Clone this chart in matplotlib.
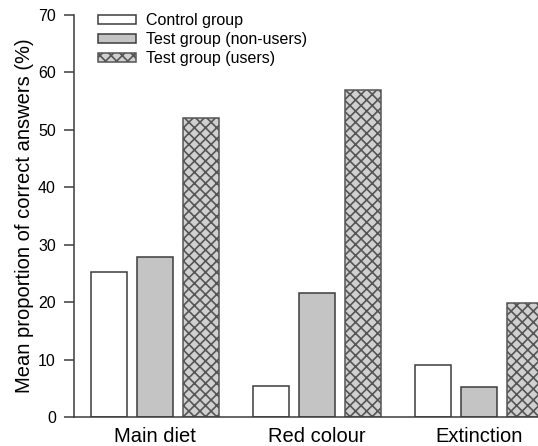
import numpy as np
import matplotlib
matplotlib.use("Agg")
import matplotlib.pyplot as plt

plt.rcParams['font.family'] = ['Liberation Sans', 'DejaVu Sans']
plt.rcParams['hatch.linewidth'] = 1.2

# data
categories = ["Main diet", "Red colour", "Extinction"]
control = [25.3, 5.4, 9.1]
non_users = [27.8, 21.6, 5.2]
users = [52.1, 57.0, 19.9]
series_labels = ["Control group", "Test group (non-users)", "Test group (users)"]

edge = "#3c3c3c"

fig = plt.figure(figsize=(5.38, 4.46), dpi=100)
ax = fig.add_axes([74 / 538, 1 - 417 / 446, 1 - 74 / 538, (417 - 15) / 446])

x = np.arange(len(categories))
pitch = 0.284
width = 0.222

ax.bar(x - pitch, control, width, color="white", edgecolor=edge, linewidth=1.1, label=series_labels[0])
ax.bar(x, non_users, width, color="#c4c4c4", edgecolor=edge, linewidth=1.1, label=series_labels[1])
ax.bar(x + pitch, users, width, color="#d0d0d0", edgecolor="#555555", hatch="xxx", linewidth=1.1, label=series_labels[2])

ax.set_xlim(-0.5, 2.364)
ax.set_ylim(0, 70)
ax.set_yticks(range(0, 71, 10))
ax.set_xticks(x)
ax.set_xticklabels(categories, fontsize=14.5)
ax.tick_params(axis="x", length=0, pad=7)
ax.tick_params(axis="y", direction="out", length=7, width=1.1, color=edge, labelsize=11.5, pad=6)
ax.set_ylabel("Mean proportion of correct answers (%)", fontsize=14.5, labelpad=3)

for side in ["top", "right"]:
    ax.spines[side].set_visible(False)
for side in ["left", "bottom"]:
    ax.spines[side].set_color(edge)
    ax.spines[side].set_linewidth(1.1)

ax.legend(loc="upper left", bbox_to_anchor=(98 / 538, 1 - 13 / 446), bbox_transform=fig.transFigure,
          frameon=False, fontsize=11.5, handlelength=2.4, handleheight=0.55,
          handletextpad=0.6, labelspacing=0.26, borderpad=0, borderaxespad=0)

fig.savefig("out.png", dpi=100)
